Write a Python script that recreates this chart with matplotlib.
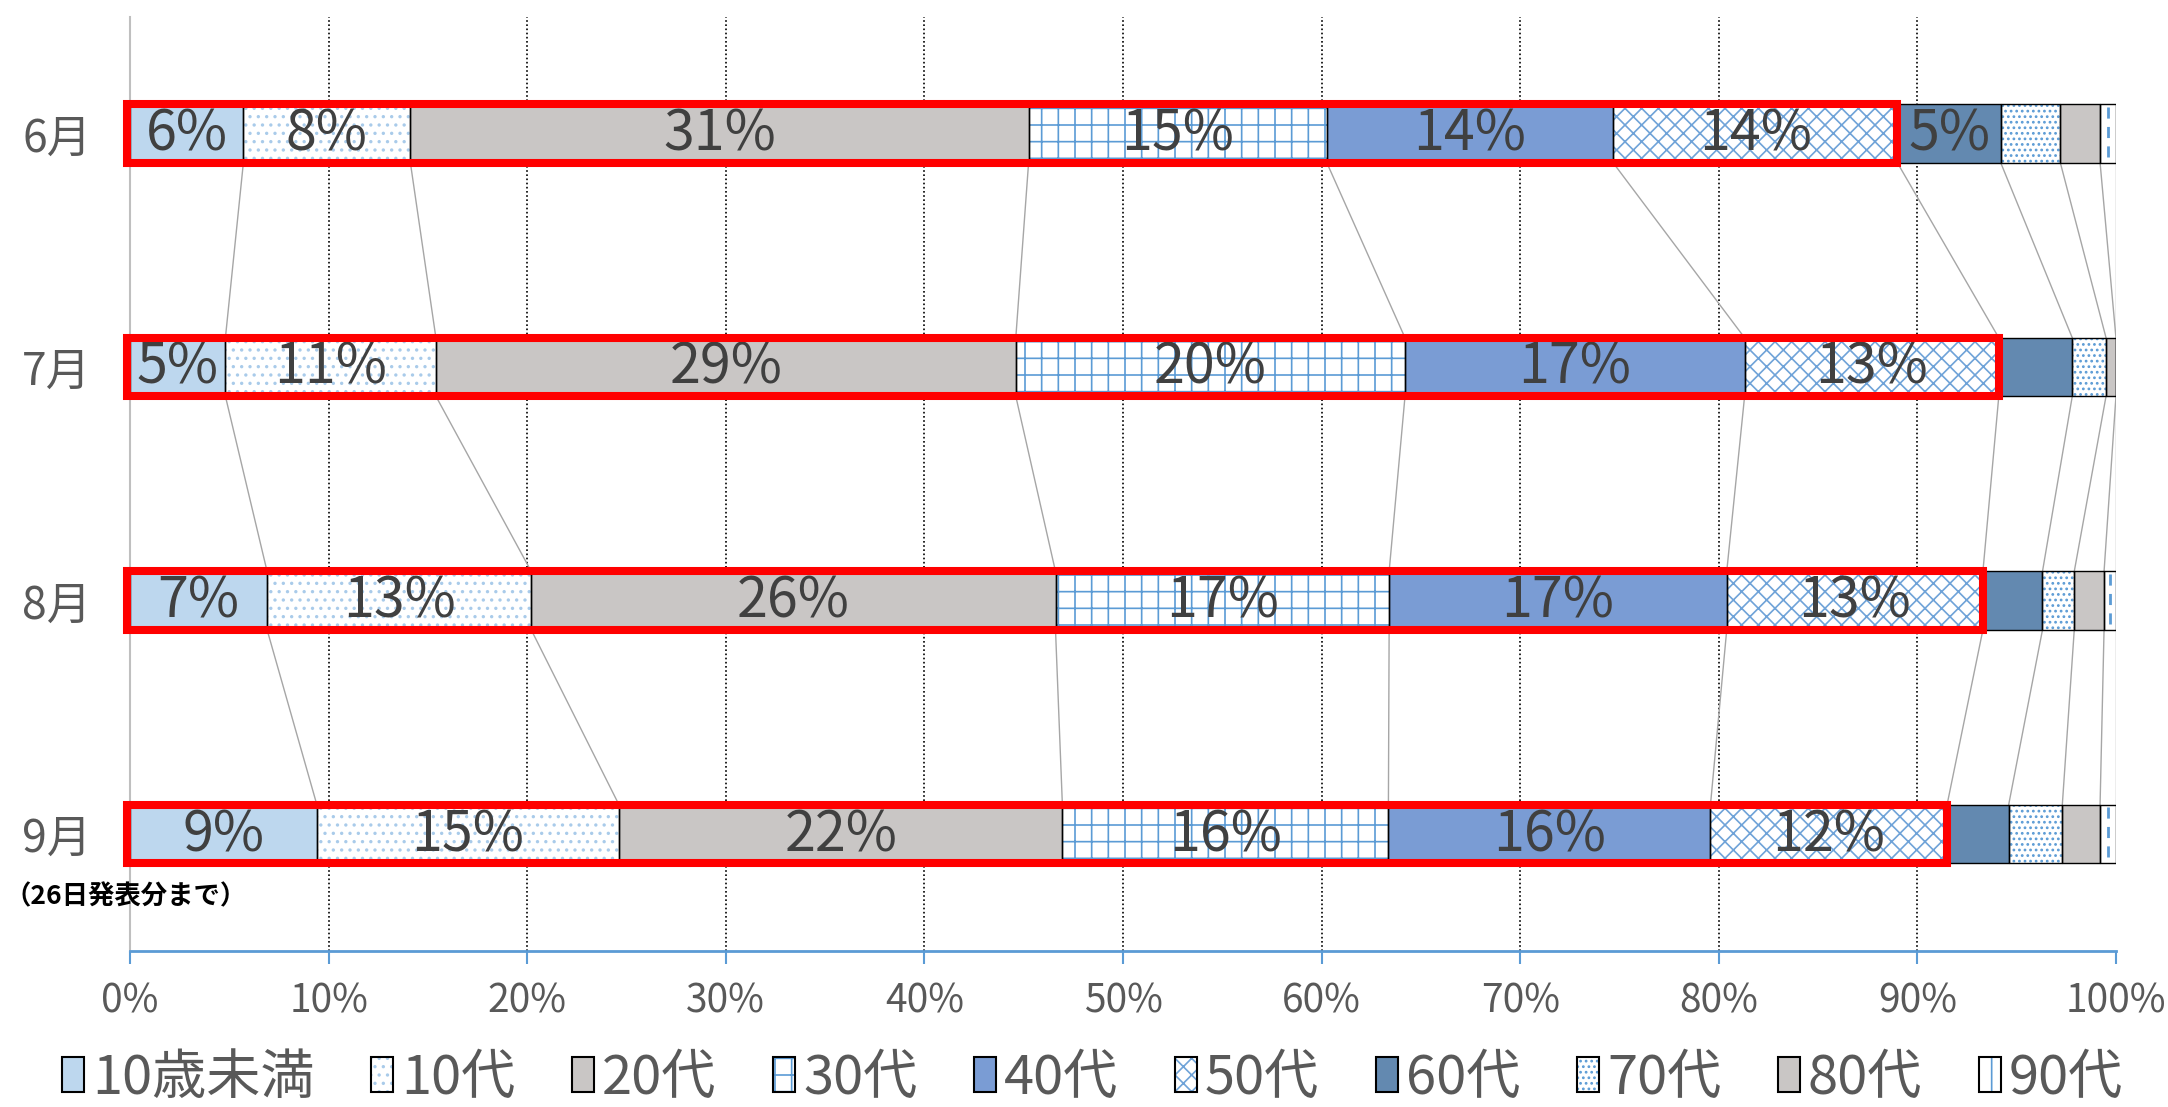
import numpy as np
import matplotlib.pyplot as plt
from matplotlib.patches import Patch, Rectangle
from matplotlib.legend_handler import HandlerTuple

plt.rcParams['font.family'] = ['Noto Sans CJK JP', 'DejaVu Sans']
plt.rcParams['hatch.linewidth'] = 1.2

# data (share of cases by age group, %)
months = ["6月", "7月", "8月", "9月"]
groups = ["10歳未満", "10代", "20代", "30代", "40代", "50代", "60代", "70代", "80代", "90代"]
jun = [5.7, 8.4, 31.1, 15.0, 14.4, 14.3, 5.2, 3.0, 2.0, 0.8]
jul = [4.8, 10.6, 29.2, 19.6, 17.1, 12.8, 3.7, 1.7, 0.5, 0.0]
aug = [6.9, 13.3, 26.4, 16.8, 17.0, 12.9, 3.0, 1.6, 1.5, 0.6]
sep = [9.4, 15.2, 22.3, 16.4, 16.2, 11.9, 3.1, 2.7, 1.9, 0.8]
note = "（26日発表分まで）"
xticks = [0, 10, 20, 30, 40, 50, 60, 70, 80, 90, 100]

# styles
fills = ["#BDD7EE", "white", "#C9C6C5", "white", "#7A9CD4",
         "white", "#6389B0", "white", "#C9C6C5", "white"]
hatches = [None, "..", None, "+", None, "xx", None, "...", None, None]
hatch_cols = ["none", "#A9CBEA", "none", "#5B9BD5", "none",
              "#6FA3D8", "none", "#5B9BD5", "none", "#5B9BD5"]
blue = "#5B9BD5"
gray_txt = "#595959"

data = np.array([jun, jul, aug, sep])
data = data / data.sum(axis=1, keepdims=True) * 100
cum = np.hstack([np.zeros((4, 1)), np.cumsum(data, axis=1)])
ypos = np.arange(len(months))
h = 0.25

fig = plt.figure(figsize=(21.68, 11.07), dpi=100)
ax = fig.add_axes([0.0600, 0.1409, 0.9160, 0.8441])

for k in range(len(groups)):
    # fill + pattern
    ax.barh(ypos, data[:, k], left=cum[:, k], height=h, color=fills[k],
            hatch=hatches[k], edgecolor=hatch_cols[k], linewidth=0, zorder=2)
    # black outline
    ax.barh(ypos, data[:, k], left=cum[:, k], height=h, fill=False,
            edgecolor="black", linewidth=1.0, zorder=3)

# 90代: dashed line in the middle of the segment
mid90 = cum[:, 9] + data[:, 9] / 2
for r in range(4):
    if data[r, 9] > 0.2:
        ax.plot([mid90[r], mid90[r]], [ypos[r] - h / 2 + 0.01, ypos[r] + h / 2 - 0.01],
                color=blue, lw=2, ls=(0, (4, 3)), zorder=2.5)

# series lines between months
for r in range(3):
    for k in range(1, 11):
        ax.plot([cum[r, k], cum[r + 1, k]], [ypos[r] + h / 2, ypos[r + 1] - h / 2],
                color="#A6A6A6", lw=1.0, zorder=1)

# labels
for r in range(4):
    for k in range(len(groups)):
        if data[r, k] >= 4.5:
            ax.text(cum[r, k] + data[r, k] / 2, ypos[r] + 0.005, "%d%%" % round(data[r, k]),
                    ha="center", va="center", fontsize=40, color="#404040", zorder=4)

# red boxes round 10歳未満..50代
for r in range(4):
    ax.add_patch(Rectangle((-0.15, ypos[r] - h / 2), cum[r, 6] + 0.15, h, fill=False,
                           edgecolor="#FF0000", linewidth=5.8, zorder=5, clip_on=False))

ax.set_xlim(0, 100)
ax.set_ylim(3.5, -0.5)
ax.set_xticks(xticks)
ax.set_xticklabels(["%d%%" % t for t in xticks])
ax.set_yticks(ypos)
ax.set_yticklabels(months)
ax.tick_params(axis="x", direction="out", length=9, width=1.5, color=blue,
               labelsize=28, labelcolor=gray_txt, pad=13)
ax.tick_params(axis="y", length=0, labelsize=32, labelcolor=gray_txt, pad=28)

ax.grid(axis="x", color="black", linestyle=(0, (1, 1.5)), linewidth=1.2, zorder=0)
ax.set_axisbelow(True)
gl = ax.xaxis.get_gridlines()
gl[0].set_visible(False)
gl[-1].set_visible(False)

for s in ["top", "right"]:
    ax.spines[s].set_visible(False)
ax.spines["left"].set_color("#BFBFBF")
ax.spines["left"].set_linewidth(1.5)
ax.spines["bottom"].set_color(blue)
ax.spines["bottom"].set_linewidth(2)

fig.text(0.002, 0.19, note, fontsize=19, fontweight="bold", color="black",
         ha="left", va="center")

# legend
handles = []
for k in range(len(groups)):
    hh = hatches[k] if k != 9 else "|"
    ec = hatch_cols[k] if hatch_cols[k] != "none" else fills[k]
    handles.append((Patch(facecolor=fills[k], hatch=hh, edgecolor=ec, linewidth=0),
                    Patch(fill=False, edgecolor="black", linewidth=1.5)))
fig.legend(handles, groups, ncol=10, loc="center", bbox_to_anchor=(0.504, 0.026),
           frameon=False, fontsize=39, labelcolor=gray_txt, handlelength=0.4,
           handleheight=0.6, handletextpad=0.15, columnspacing=1.05,
           handler_map={tuple: HandlerTuple(ndivide=1, pad=0)})

fig.savefig("out.png", dpi=100)
